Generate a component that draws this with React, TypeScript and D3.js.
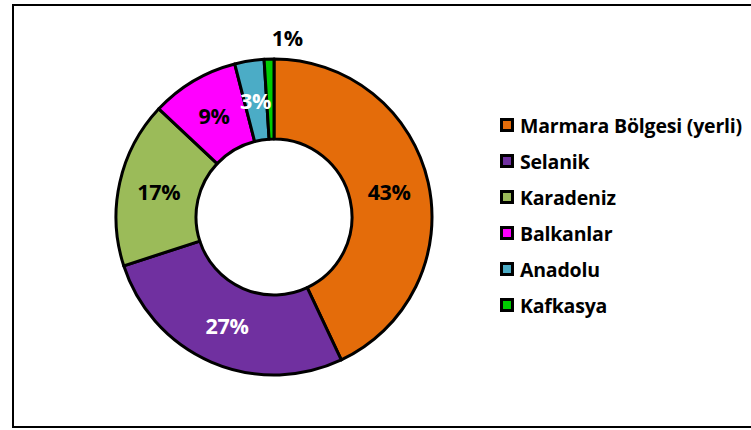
import * as d3 from 'd3';
import React from 'react';

const categories = ['Marmara Bölgesi (yerli)', 'Selanik', 'Karadeniz', 'Balkanlar', 'Anadolu', 'Kafkasya'];
const values = [43, 27, 17, 9, 3, 1];
const colors = ['#E46C0A', '#7030A0', '#9BBB59', '#FF00FF', '#4BACC6', '#00CC00'];
const labelColors = ['#000', '#fff', '#000', '#000', '#fff', '#000'];

const W = 751;
const H = 430;
const cx = 274;
const cy = 217;
const outerR = 158;
const innerR = 78;
const font = '"Open Sans", Lato, sans-serif';

type Slice = { name: string; value: number; color: string; label: string };

const App = () => {
  const data: Slice[] = categories.map((name, i) => ({
    name,
    value: values[i],
    color: colors[i],
    label: labelColors[i],
  }));

  const pie = d3
    .pie<Slice>()
    .value((d) => d.value)
    .sort(null);
  const arcs = pie(data);
  const total = d3.sum(values);

  const arc = d3.arc<d3.PieArcDatum<Slice>>().innerRadius(innerR).outerRadius(outerR);
  const labelArc = d3.arc<d3.PieArcDatum<Slice>>().innerRadius(118).outerRadius(118);
  const outArc = d3.arc<d3.PieArcDatum<Slice>>().innerRadius(180).outerRadius(180);

  const legendY = d3
    .scalePoint<string>()
    .domain(categories)
    .range([125, 305]);

  return (
    <svg width={W} height={H} style={{ position: 'absolute', left: 0, top: 0, display: 'block' }}>
      <rect x={0} y={0} width={W} height={H} fill="#fff" />
      <rect x={13} y={5} width={W + 10} height={422} fill="none" stroke="#000" strokeWidth={2} />
      <g transform={`translate(${cx},${cy})`}>
        {arcs.map((a, i) => (
          <path key={i} d={arc(a) || ''} fill={a.data.color} stroke="#000" strokeWidth={3} strokeLinejoin="round" />
        ))}
        {arcs.map((a, i) => {
          const pct = Math.round((a.data.value / total) * 100) + '%';
          const small = a.data.value / total < 0.02;
          let [x, y] = small ? outArc.centroid(a) : labelArc.centroid(a);
          if (small) x += 19;
          return (
            <text
              key={'l' + i}
              x={x}
              y={y}
              textAnchor="middle"
              dominantBaseline="central"
              fontFamily={font}
              fontWeight="bold"
              fontSize={21.5}
              letterSpacing={-0.3}
              fill={a.data.label}
            >
              {pct}
            </text>
          );
        })}
      </g>
      <g>
        {data.map((d) => (
          <g key={d.name} transform={`translate(500,${legendY(d.name)})`}>
            <rect x={1.5} y={-5.5} width={11} height={11} fill={d.color} stroke="#000" strokeWidth={3} />
            <text
              x={20}
              y={0}
              dominantBaseline="central"
              fontFamily={font}
              fontWeight="bold"
              fontSize={19.5}
              letterSpacing={-0.2}
              fill="#000"
            >
              {d.name}
            </text>
          </g>
        ))}
      </g>
    </svg>
  );
};

export default App;
